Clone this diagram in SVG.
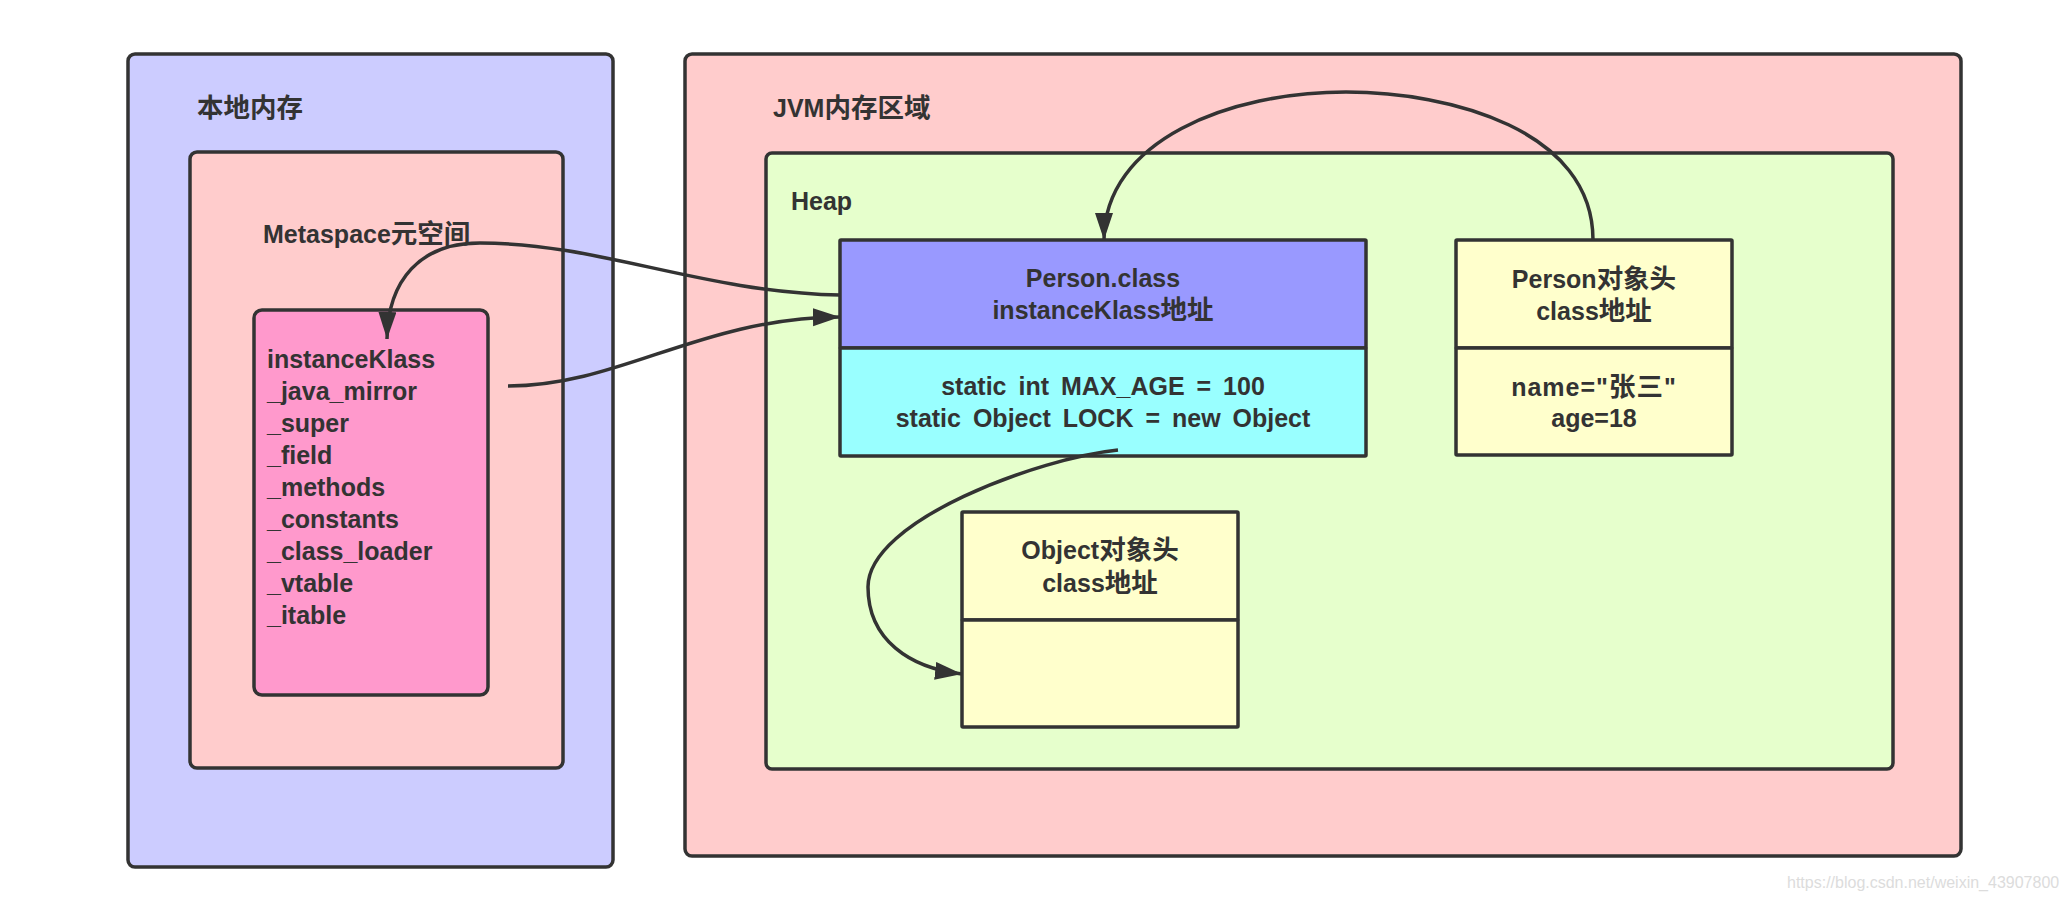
<svg xmlns="http://www.w3.org/2000/svg" width="2067" height="901" viewBox="0 0 2067 901">
<style>
  .box { stroke: #333333; stroke-width: 3.5; }
  .t { font-family: "Liberation Sans", "Noto Sans CJK SC", sans-serif; font-weight: bold; font-size: 25px; fill: #333333; }
  .cj { font-family: "Noto Sans CJK SC", sans-serif; font-size: 26.5px; }
  .c { text-anchor: middle; }
  .ws { word-spacing: 5px; }
  .conn { fill: none; stroke: #333333; stroke-width: 3.5; }
  .wm { font-family: "Liberation Sans", sans-serif; font-size: 16px; fill: #dcdcdc; }
</style>
<defs>
  <marker id="arrow" markerUnits="userSpaceOnUse" markerWidth="30" markerHeight="20" refX="27" refY="9" orient="auto">
    <path d="M0,0 L27,9 L0,18 Z" fill="#333333"/>
  </marker>
</defs>
<rect width="2067" height="901" fill="#ffffff"/>

<g id="native-memory">
  <rect class="box" x="128" y="54" width="485" height="813" rx="7" fill="#CCCCFF"/>
  <text class="t" x="197" y="117"><tspan class="cj">本地内存</tspan></text>
</g>
<g id="metaspace">
  <rect class="box" x="190" y="152" width="373" height="616" rx="7" fill="#FFCCCC"/>
  <text class="t" x="263" y="243">Metaspace<tspan class="cj">元空间</tspan></text>
</g>
<g id="instanceKlass">
  <rect class="box" x="254" y="310" width="234" height="385" rx="8" fill="#FF99CC"/>
  <text class="t" x="267" y="368">instanceKlass</text>
  <text class="t" x="267" y="400">_java_mirror</text>
  <text class="t" x="267" y="432">_super</text>
  <text class="t" x="267" y="464">_field</text>
  <text class="t" x="267" y="496">_methods</text>
  <text class="t" x="267" y="528">_constants</text>
  <text class="t" x="267" y="560">_class_loader</text>
  <text class="t" x="267" y="592">_vtable</text>
  <text class="t" x="267" y="624">_itable</text>
</g>

<g id="jvm-memory">
  <rect class="box" x="685" y="54" width="1276" height="802" rx="7" fill="#FFCCCC"/>
  <text class="t" x="773" y="117">JVM<tspan class="cj">内存区域</tspan></text>
</g>
<g id="heap">
  <rect class="box" x="766" y="153" width="1127" height="616" rx="6" fill="#E6FFCC"/>
  <text class="t" x="791" y="210">Heap</text>
</g>
<g id="person-class">
  <rect class="box" x="840" y="240" width="526" height="108" rx="1" fill="#9999FF"/>
  <rect class="box" x="840" y="348" width="526" height="108" rx="1" fill="#99FFFF"/>
  <text class="t c" x="1103" y="287">Person.class</text>
  <text class="t c" x="1103" y="319">instanceKlass<tspan class="cj">地址</tspan></text>
  <text class="t c ws" x="1103" y="395">static int MAX_AGE = 100</text>
  <text class="t c ws" x="1103" y="427">static Object LOCK = new Object</text>
</g>
<g id="person-object">
  <rect class="box" x="1456" y="240" width="276" height="108" rx="1" fill="#FFFFCC"/>
  <rect class="box" x="1456" y="348" width="276" height="107" rx="1" fill="#FFFFCC"/>
  <text class="t c" x="1594" y="288">Person<tspan class="cj">对象头</tspan></text>
  <text class="t c" x="1594" y="320">class<tspan class="cj">地址</tspan></text>
  <text class="t c" x="1594" y="396" letter-spacing="1">name="<tspan class="cj">张三</tspan>"</text>
  <text class="t c" x="1594" y="427">age=18</text>
</g>
<g id="object-object">
  <rect class="box" x="962" y="512" width="276" height="108" rx="1" fill="#FFFFCC"/>
  <rect class="box" x="962" y="620" width="276" height="107" rx="1" fill="#FFFFCC"/>
  <text class="t c" x="1100" y="559">Object<tspan class="cj">对象头</tspan></text>
  <text class="t c" x="1100" y="592">class<tspan class="cj">地址</tspan></text>
</g>

<g id="connectors">
  <path class="conn" d="M840,295 C700,292 600,243 480,243 C420,243 388,280 387,339" marker-end="url(#arrow)"/>
  <path class="conn" d="M508,386 C620,386 700,318 840,317" marker-end="url(#arrow)"/>
  <path class="conn" d="M1593,240 C1593,130 1450,92 1346,92 C1230,92 1104,140 1104,240" marker-end="url(#arrow)"/>
  <path class="conn" d="M1118,450 C1040,458 868,520 868,587 C868,640 910,668 962,674" marker-end="url(#arrow)"/>
</g>

<text class="wm" x="1787" y="888">https://blog.csdn.net/weixin_43907800</text>
</svg>
